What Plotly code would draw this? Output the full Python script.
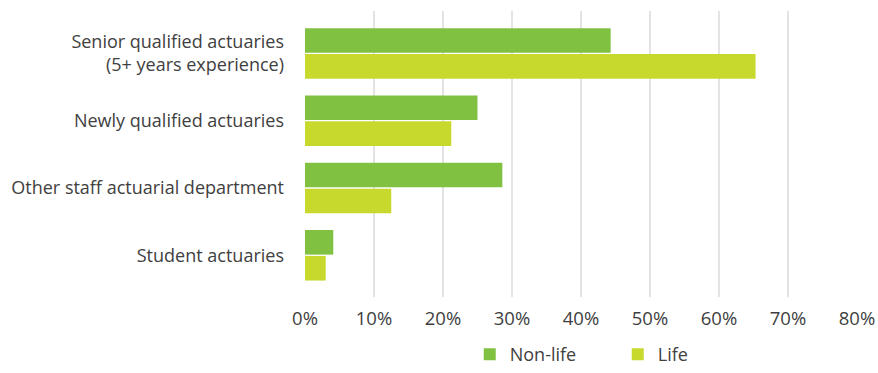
import plotly.graph_objects as go

categories = [
    "Senior qualified actuaries<br>(5+ years experience)",
    "Newly qualified actuaries",
    "Other staff actuarial department",
    "Student actuaries",
]
non_life = [44.3, 25.0, 28.6, 4.1]
life = [65.3, 21.2, 12.5, 3.0]
x_ticks = [0, 10, 20, 30, 40, 50, 60, 70, 80]
x_tick_labels = [f"{v}%" for v in x_ticks]

font_family = "Open Sans"
text_color = "#404040"

fig = go.Figure()
fig.add_trace(go.Bar(
    y=categories, x=non_life, name="Non-life", orientation="h",
    marker=dict(color="#80c142", line=dict(width=0)),
))
fig.add_trace(go.Bar(
    y=categories, x=life, name="Life", orientation="h",
    marker=dict(color="#c8d92e", line=dict(width=0)),
))

fig.update_layout(
    width=878, height=373,
    margin=dict(l=305, r=21, t=11, b=76, autoexpand=False),
    paper_bgcolor="white", plot_bgcolor="white",
    barmode="group", bargap=0.23, bargroupgap=0.05,
    font=dict(family=font_family, size=18, color=text_color),
    legend=dict(
        orientation="h", xref="container", x=0.535, xanchor="left",
        yref="container", y=-0.02, yanchor="bottom",
        font=dict(size=18, color=text_color),
        itemwidth=30, traceorder="normal",
        entrywidth=103, entrywidthmode="pixels",
    ),
    showlegend=True,
)
fig.update_xaxes(
    range=[0, 80], tickvals=x_ticks, ticktext=x_tick_labels,
    showgrid=True, gridcolor="#e3e3e3", gridwidth=2,
    zeroline=False, showline=False, ticks="",
    ticklabelstandoff=8,
    tickfont=dict(size=18.5, color=text_color),
    automargin=False, fixedrange=True,
)
fig.update_yaxes(
    type="category", categoryorder="array", categoryarray=categories,
    range=[3.62, -0.63], showgrid=False, zeroline=False, showline=False,
    ticks="", ticklabelstandoff=20,
    tickfont=dict(size=18, color=text_color),
    automargin=False, fixedrange=True,
)

fig.write_html("out.html")
